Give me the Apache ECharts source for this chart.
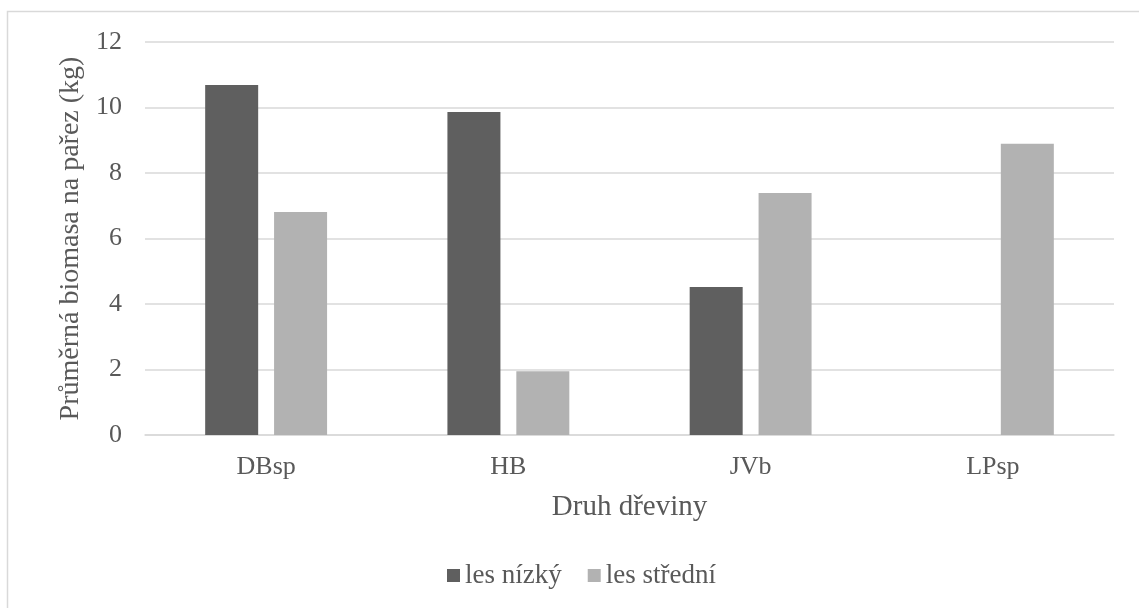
<!DOCTYPE html>
<html>
<head>
<meta charset="utf-8">
<script src="https://cdn.jsdelivr.net/npm/echarts@6/dist/echarts.min.js"></script>
<style>
html, body { margin: 0; padding: 0; background: #fff; }
#chart { width: 1139px; height: 608px; }
</style>
</head>
<body>
<div id="chart"></div>
<script>
var categories = ['DBsp', 'HB', 'JVb', 'LPsp'];
var lesNizky = [10.69, 9.86, 4.52, null];
var lesStredni = [6.81, 1.95, 7.39, 8.89];
var yTicks = [0, 2, 4, 6, 8, 10, 12];

var font = '"Liberation Serif", "Times New Roman", serif';
var txt = '#595959';

var chart = echarts.init(document.getElementById('chart'));

var option = {
	animation: false,
	textStyle: { fontFamily: font },
	graphic: [{
		type: 'rect',
		shape: { x: 7.5, y: 11.5, width: 1200, height: 700 },
		style: { fill: 'none', stroke: '#d9d9d9', lineWidth: 1.5 },
		silent: true
	}],
	grid: {
		left: 145,
		right: 25,
		top: 42,
		bottom: 173
	},
	legend: {
		bottom: 14,
		left: 442,
		itemWidth: 13,
		itemHeight: 13,
		itemGap: 26,
		icon: 'rect',
		textStyle: { fontFamily: font, fontSize: 27, color: txt },
		data: ['les nízký', 'les střední']
	},
	xAxis: {
		type: 'category',
		data: categories,
		name: 'Druh dřeviny',
		nameLocation: 'middle',
		nameGap: 58,
		nameTextStyle: { fontFamily: font, fontSize: 29, color: txt },
		axisLine: { lineStyle: { color: '#d9d9d9', width: 1.5 } },
		axisTick: { show: false },
		axisLabel: { fontFamily: font, fontSize: 26, color: txt, margin: 19 }
	},
	yAxis: {
		type: 'value',
		min: yTicks[0],
		max: yTicks[yTicks.length - 1],
		interval: 2,
		name: 'Průměrná biomasa na pařez (kg)',
		nameLocation: 'middle',
		nameGap: 60,
		nameTextStyle: { fontFamily: font, fontSize: 28, color: txt },
		axisLine: { show: false },
		axisTick: { show: false },
		axisLabel: { fontFamily: font, fontSize: 26, color: txt, margin: 23 },
		splitLine: { lineStyle: { color: '#d9d9d9', width: 1.5 } }
	},
	series: [{
		name: 'les nízký',
		type: 'bar',
		data: lesNizky,
		barWidth: 53,
		barGap: '30%',
		itemStyle: { color: '#5f5f5f' }
	}, {
		name: 'les střední',
		type: 'bar',
		data: lesStredni,
		barWidth: 53,
		barGap: '30%',
		itemStyle: { color: '#b2b2b2' }
	}]
};

chart.setOption(option);
</script>
</body>
</html>
